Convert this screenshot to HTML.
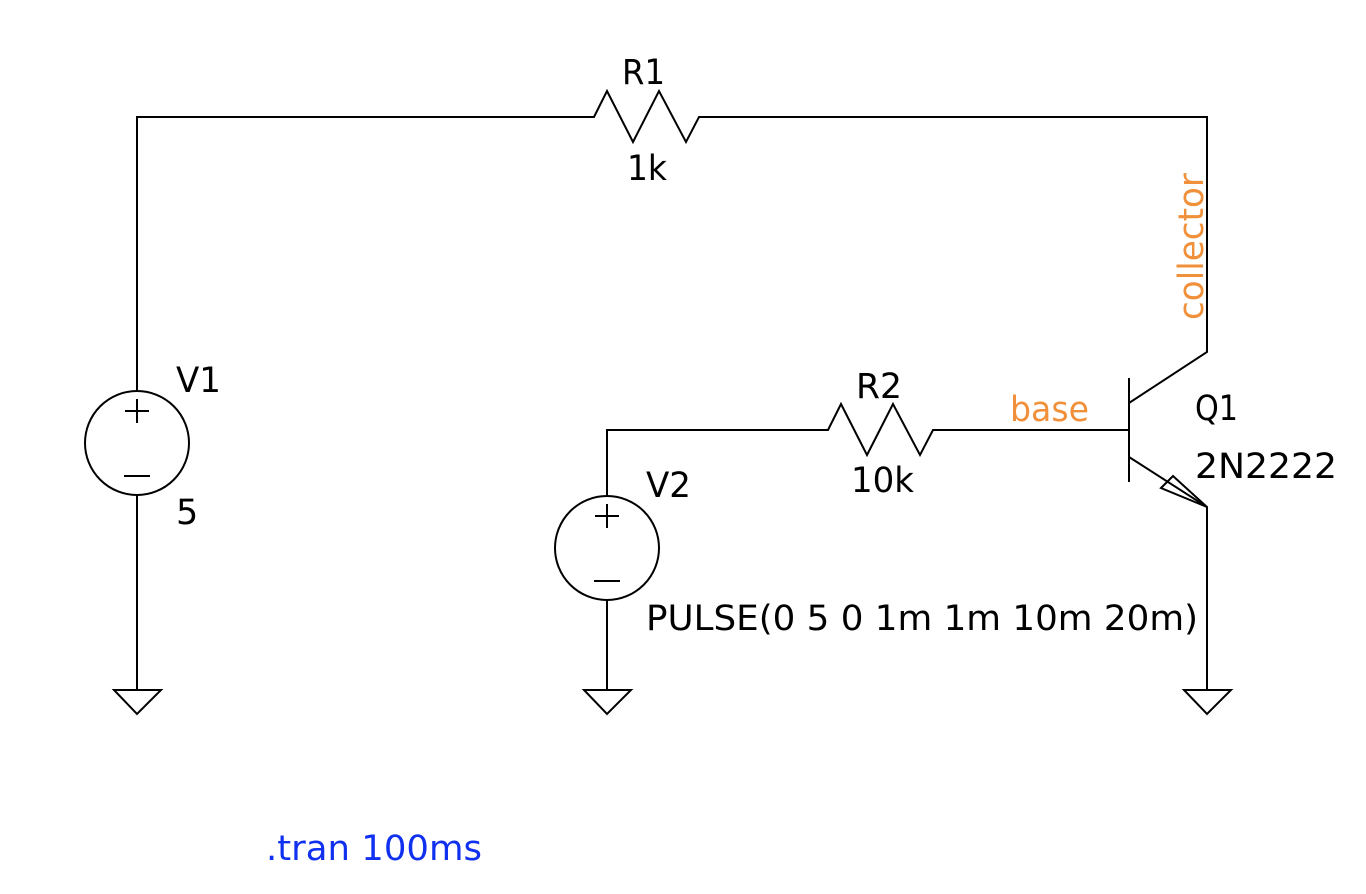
<!DOCTYPE html>
<html><head><meta charset="utf-8"><style>html,body{margin:0;padding:0;background:#fff}svg{display:block}</style></head>
<body>
<svg width="1366" height="894" viewBox="0 0 1366 894" xmlns="http://www.w3.org/2000/svg">
<g fill="none" stroke="#000" stroke-width="2" stroke-linejoin="miter">
<polyline points="137,391 137,117 594,117 607,91 633,142 659,91 686,142 699,117 1207,117 1207,352 1129,403"/>
<line x1="137" y1="495" x2="137" y2="690"/>
<circle cx="137" cy="443" r="52"/>
<line x1="137" y1="399" x2="137" y2="423"/><line x1="125" y1="411" x2="149" y2="411"/>
<line x1="124" y1="476" x2="150" y2="476"/>
<polygon points="114,690 161,690 137,714"/>
<polyline points="607,496 607,430 828,430 841,404 867,455 893,404 920,455 933,430 1129,430"/>
<circle cx="607" cy="548" r="52"/>
<line x1="607" y1="504" x2="607" y2="528"/><line x1="595" y1="516" x2="619" y2="516"/>
<line x1="594" y1="581" x2="620" y2="581"/>
<line x1="607" y1="600" x2="607" y2="690"/>
<polygon points="584,690 631,690 607,714"/>
<line x1="1129" y1="378" x2="1129" y2="482"/>
<polyline points="1129,457 1207,507 1207,690"/>
<polygon points="1161,488 1173,476 1207,507"/>
<polygon points="1184,690 1231,690 1207,714"/>
</g>
<g font-family="'DejaVu Sans','Liberation Sans',sans-serif" font-size="35" fill="#000">
<text x="622" y="84" textLength="43" lengthAdjust="spacingAndGlyphs">R1</text>
<text x="627" y="180" textLength="40" lengthAdjust="spacingAndGlyphs">1k</text>
<text x="176" y="392" textLength="45" lengthAdjust="spacingAndGlyphs">V1</text>
<text x="176" y="524">5</text>
<text x="646" y="497" textLength="45" lengthAdjust="spacingAndGlyphs">V2</text>
<text x="646" y="630" textLength="552" lengthAdjust="spacingAndGlyphs">PULSE(0 5 0 1m 1m 10m 20m)</text>
<text x="856" y="398" textLength="46" lengthAdjust="spacingAndGlyphs">R2</text>
<text x="851" y="492" textLength="63" lengthAdjust="spacingAndGlyphs">10k</text>
<text x="1195" y="420" textLength="43" lengthAdjust="spacingAndGlyphs">Q1</text>
<text x="1195" y="478" textLength="142" lengthAdjust="spacingAndGlyphs">2N2222</text>
<text x="1010" y="421" fill="#f0903a" textLength="79" lengthAdjust="spacingAndGlyphs">base</text>
<text transform="translate(1203,320) rotate(-90)" fill="#f0903a" textLength="147" lengthAdjust="spacingAndGlyphs">collector</text>
<text x="266" y="860" fill="#1030f0" textLength="216" lengthAdjust="spacingAndGlyphs">.tran 100ms</text>
</g>
</svg>
</body></html>
